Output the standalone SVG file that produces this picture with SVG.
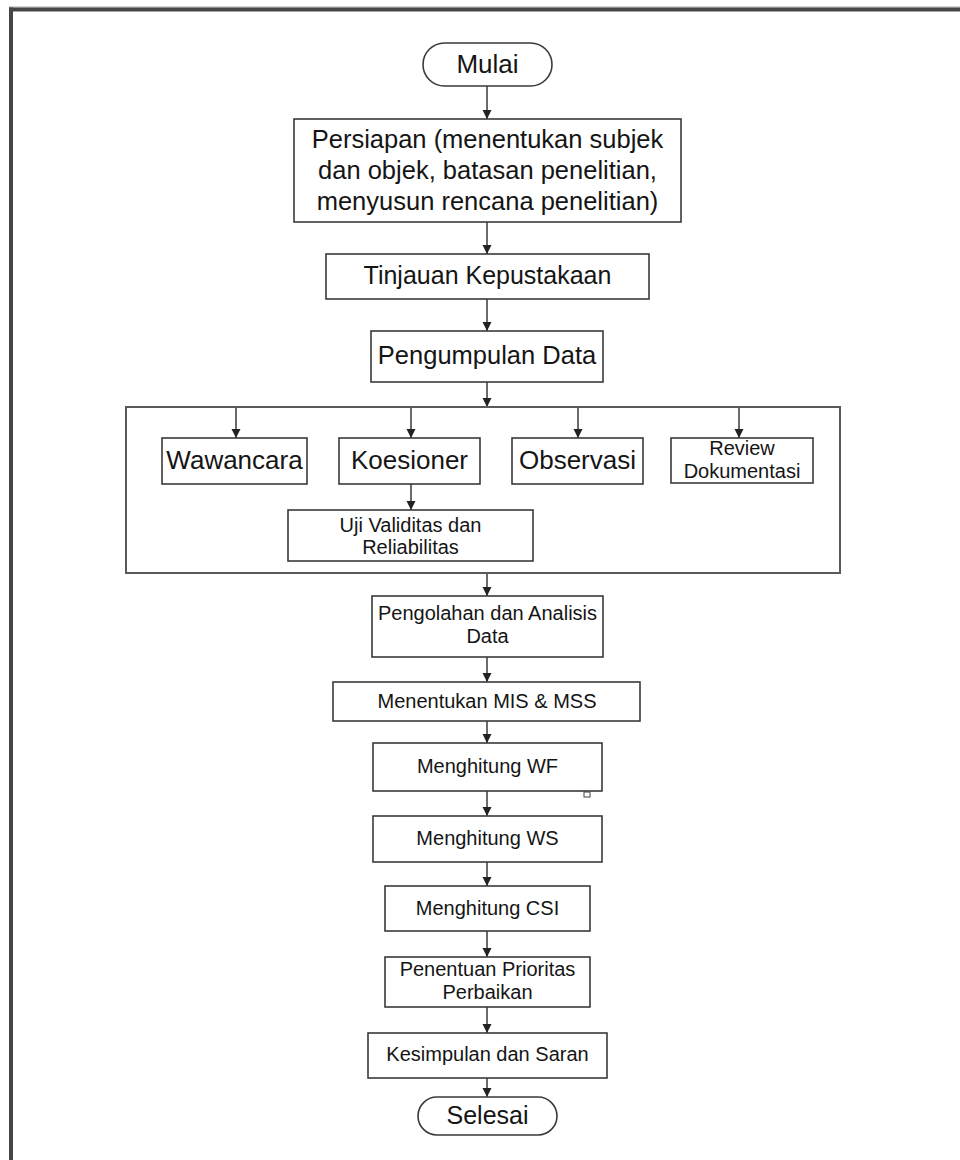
<svg xmlns="http://www.w3.org/2000/svg" width="960" height="1160" viewBox="0 0 960 1160">
<style>
.box{fill:#fff;stroke:#3a3a3a;stroke-width:1.6}
.big{fill:none;stroke:#5a5a5a;stroke-width:2}
.t{font-family:"Liberation Sans",Arial,sans-serif;fill:#151515;text-anchor:middle}
.c{stroke:#3a3a3a;stroke-width:1.5;fill:none}
</style>
<defs>
<marker id="ah" markerUnits="userSpaceOnUse" markerWidth="10" markerHeight="10" refX="9" refY="4.5" orient="auto">
<path d="M0,0 L9,4.5 L0,9 z" fill="#222"/>
</marker>
</defs>
<rect x="0" y="0" width="960" height="1160" fill="#fff"/>
<g id="frame">
<rect x="9" y="6.5" width="951" height="1" fill="#aaa"/>
<rect x="9" y="7.5" width="951" height="4" fill="#474747"/>
<rect x="9" y="7.5" width="4" height="1152.5" fill="#474747"/>
</g>
<g id="connectors">
<line class="c" x1="487" y1="86" x2="487" y2="119" marker-end="url(#ah)"/>
<line class="c" x1="487" y1="222" x2="487" y2="254" marker-end="url(#ah)"/>
<line class="c" x1="487" y1="299" x2="487" y2="331" marker-end="url(#ah)"/>
<line class="c" x1="487" y1="382" x2="487" y2="407" marker-end="url(#ah)"/>
<line class="c" x1="236" y1="407" x2="236" y2="438" marker-end="url(#ah)"/>
<line class="c" x1="411" y1="407" x2="411" y2="438" marker-end="url(#ah)"/>
<line class="c" x1="578" y1="407" x2="578" y2="438" marker-end="url(#ah)"/>
<line class="c" x1="739" y1="407" x2="739" y2="438" marker-end="url(#ah)"/>
<line class="c" x1="411" y1="484" x2="411" y2="510" marker-end="url(#ah)"/>
<line class="c" x1="487" y1="573" x2="487" y2="596" marker-end="url(#ah)"/>
<line class="c" x1="487" y1="657" x2="487" y2="682" marker-end="url(#ah)"/>
<line class="c" x1="487" y1="721" x2="487" y2="743" marker-end="url(#ah)"/>
<line class="c" x1="487" y1="791" x2="487" y2="816" marker-end="url(#ah)"/>
<line class="c" x1="487" y1="862" x2="487" y2="886" marker-end="url(#ah)"/>
<line class="c" x1="487" y1="931" x2="487" y2="957" marker-end="url(#ah)"/>
<line class="c" x1="487" y1="1007" x2="487" y2="1033" marker-end="url(#ah)"/>
<line class="c" x1="487" y1="1078" x2="487" y2="1097" marker-end="url(#ah)"/>
</g>
<g id="mulai">
<rect class="box" x="423" y="43" width="129" height="43" rx="21.5"/>
<text class="t" x="487.5" y="73" font-size="26">Mulai</text>
</g>
<g id="persiapan">
<rect class="box" x="294" y="119" width="387" height="103"/>
<text class="t" x="487.5" y="148" font-size="25.5">Persiapan (menentukan subjek</text>
<text class="t" x="487.5" y="179" font-size="25.5">dan objek, batasan penelitian,</text>
<text class="t" x="487.5" y="210" font-size="25.5">menyusun rencana penelitian)</text>
</g>
<g id="tinjauan">
<rect class="box" x="326" y="254" width="323" height="45"/>
<text class="t" x="487.5" y="284" font-size="25">Tinjauan Kepustakaan</text>
</g>
<g id="pengumpulan">
<rect class="box" x="371" y="331" width="232" height="51"/>
<text class="t" x="487" y="364" font-size="25.5">Pengumpulan Data</text>
</g>
<g id="metode">
<rect class="big" x="126" y="407" width="714" height="166"/>
</g>
<g id="wawancara">
<rect class="box" x="162" y="438" width="145" height="46"/>
<text class="t" x="234.5" y="469" font-size="26">Wawancara</text>
</g>
<g id="koesioner">
<rect class="box" x="339" y="438" width="141" height="46"/>
<text class="t" x="409.5" y="469" font-size="26">Koesioner</text>
</g>
<g id="observasi">
<rect class="box" x="512" y="438" width="131" height="46"/>
<text class="t" x="577.5" y="469" font-size="26">Observasi</text>
</g>
<g id="review">
<rect class="box" x="671" y="438" width="142" height="45"/>
<text class="t" x="742" y="455" font-size="20">Review</text>
<text class="t" x="742" y="478" font-size="20">Dokumentasi</text>
</g>
<g id="uji">
<rect class="box" x="288" y="510" width="245" height="51"/>
<text class="t" x="410.5" y="532" font-size="20">Uji Validitas dan</text>
<text class="t" x="410.5" y="554" font-size="20">Reliabilitas</text>
</g>
<g id="pengolahan">
<rect class="box" x="372" y="596" width="231" height="61"/>
<text class="t" x="487.5" y="620" font-size="20">Pengolahan dan Analisis</text>
<text class="t" x="487.5" y="643" font-size="20">Data</text>
</g>
<g id="mis">
<rect class="box" x="333" y="682" width="307" height="39"/>
<text class="t" x="487" y="708" font-size="20">Menentukan MIS &amp; MSS</text>
</g>
<g id="wf">
<rect class="box" x="373" y="743" width="229" height="48"/>
<text class="t" x="487.5" y="773" font-size="20">Menghitung WF</text>
<rect x="584" y="792" width="6" height="5" fill="#fff" stroke="#444" stroke-width="1"/>
</g>
<g id="ws">
<rect class="box" x="373" y="816" width="229" height="46"/>
<text class="t" x="487.5" y="845" font-size="20">Menghitung WS</text>
</g>
<g id="csi">
<rect class="box" x="385" y="886" width="205" height="45"/>
<text class="t" x="487.5" y="915" font-size="20">Menghitung CSI</text>
</g>
<g id="penentuan">
<rect class="box" x="385" y="957" width="205" height="50"/>
<text class="t" x="487.5" y="976" font-size="20">Penentuan Prioritas</text>
<text class="t" x="487.5" y="999" font-size="20">Perbaikan</text>
</g>
<g id="kesimpulan">
<rect class="box" x="368" y="1033" width="239" height="45"/>
<text class="t" x="487.5" y="1061" font-size="20">Kesimpulan dan Saran</text>
</g>
<g id="selesai">
<rect class="box" x="418" y="1097" width="139" height="38" rx="19"/>
<text class="t" x="487.5" y="1124" font-size="25">Selesai</text>
</g>
</svg>
